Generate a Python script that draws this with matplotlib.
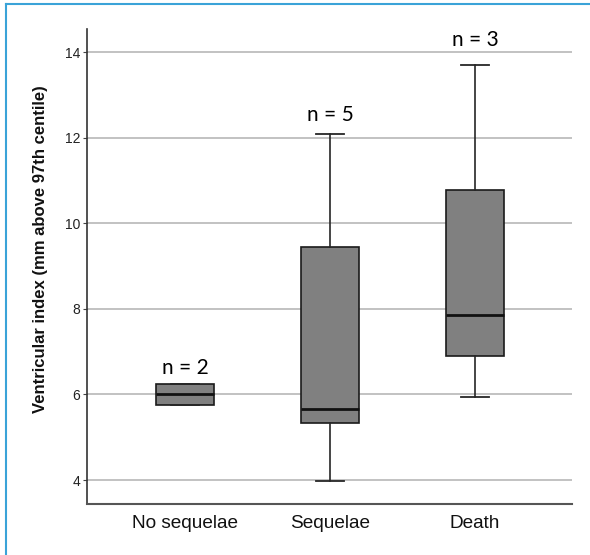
import matplotlib
matplotlib.use("Agg")
import matplotlib.pyplot as plt
from matplotlib.lines import Line2D

categories = ["No sequelae", "Sequelae", "Death"]
whislo = [5.76, 3.98, 5.94]
q1 = [5.76, 5.33, 6.89]
med = [6.00, 5.67, 7.85]
q3 = [6.25, 9.44, 10.78]
whishi = [6.25, 12.08, 13.70]
n_labels = ["n = 2", "n = 5", "n = 3"]
n_label_y = [6.61, 12.53, 14.28]
yticks = [4, 6, 8, 10, 12, 14]

fig = plt.figure(figsize=(5.9, 5.55), dpi=100)
ax = fig.add_axes([87/590, 1-504/555, (572-87)/590, (504-29)/555])

stats = []
for i, c in enumerate(categories):
    stats.append(dict(label=c, whislo=whislo[i], q1=q1[i], med=med[i],
                      q3=q3[i], whishi=whishi[i], fliers=[]))

positions = list(range(len(categories)))
ax.bxp(stats, positions=positions, widths=0.4, capwidths=0.19, patch_artist=True,
       boxprops=dict(facecolor="#808080", edgecolor="#1a1a1a", linewidth=1.2),
       medianprops=dict(color="#111111", linewidth=2.0),
       whiskerprops=dict(color="#262626", linewidth=1.2),
       capprops=dict(color="#262626", linewidth=1.3),
       showfliers=False, zorder=3)

for i, t in enumerate(n_labels):
    ax.text(positions[i], n_label_y[i], t, ha="center", va="center",
            fontsize=15, family=["Lato", "DejaVu Sans"], color="#000000")

ax.set_xlim(-0.676, 2.67)
ax.set_ylim(3.44, 14.54)
ax.set_yticks(yticks)
ax.set_yticklabels([str(v) for v in yticks], family="Liberation Sans", fontsize=10, color="#222222")
ax.set_xticks(positions)
ax.set_xticklabels(categories, family="Liberation Sans", fontsize=13.7, color="#111111")
ax.tick_params(axis="x", length=0, pad=8)
ax.tick_params(axis="y", length=3, width=0.8, pad=2, color="#444444")

for v in yticks:
    ax.axhline(v, color="#bdbdbd", linewidth=1.3, zorder=1)

for s in ["top", "right"]:
    ax.spines[s].set_visible(False)
ax.spines["left"].set_color("#333333")
ax.spines["left"].set_linewidth(1.2)
ax.spines["bottom"].set_color("#555555")
ax.spines["bottom"].set_linewidth(1.5)

ax.set_ylabel("Ventricular index (mm above 97th centile)", family="Liberation Sans",
              fontsize=12, fontweight="bold", color="#111111")
ax.yaxis.set_label_coords((48-87)/485, (504-249)/475)

# outer blue frame (top and left edges)
fig.add_artist(Line2D([6/590, 1.0], [1-4/555, 1-4/555], transform=fig.transFigure,
                      color="#3aa3d8", linewidth=1.5))
fig.add_artist(Line2D([6/590, 6/590], [0, 1-4/555], transform=fig.transFigure,
                      color="#3aa3d8", linewidth=1.5))

fig.savefig("out.png", dpi=100)
